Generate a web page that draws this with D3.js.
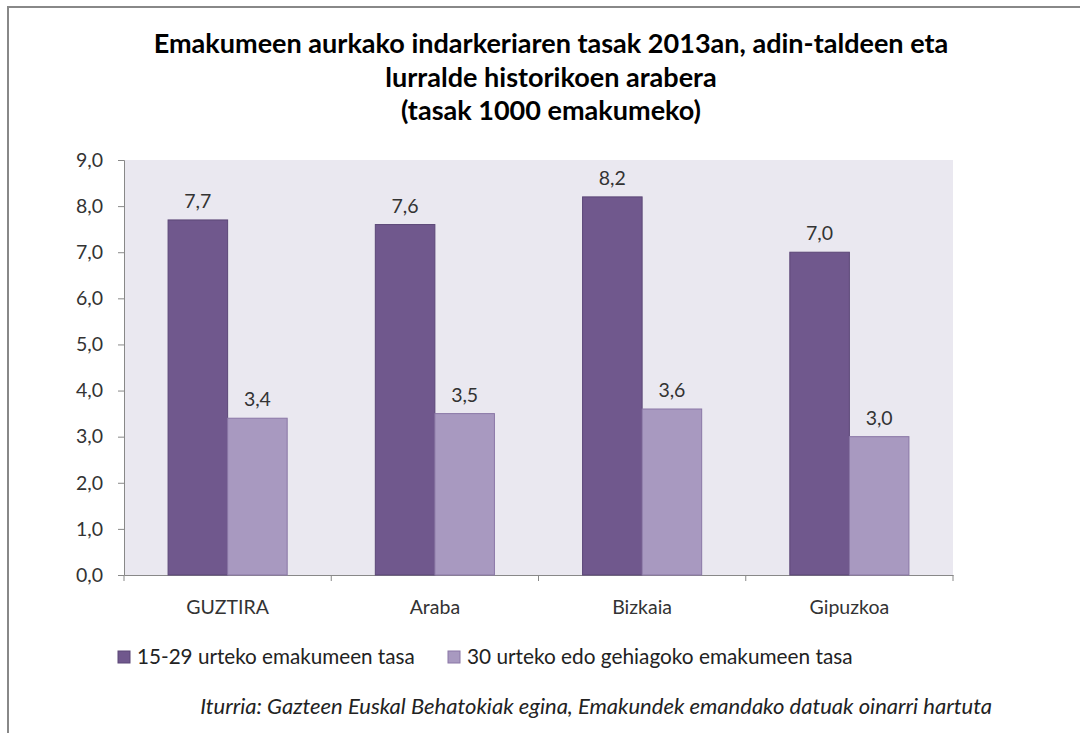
<!DOCTYPE html>
<html>
<head>
<meta charset="utf-8">
<script src="https://cdn.jsdelivr.net/npm/d3@7"></script>
<style>
  body { margin: 0; background: #fff; }
  svg text { font-family: Lato, "Open Sans", sans-serif; }
</style>
</head>
<body>
<div id="chart"></div>
<script>
var categories = ['GUZTIRA', 'Araba', 'Bizkaia', 'Gipuzkoa'];
var seriesNames = ['15-29 urteko emakumeen tasa', '30 urteko edo gehiagoko emakumeen tasa'];
var young = [7.7, 7.6, 8.2, 7.0];
var older = [3.4, 3.5, 3.6, 3.0];
var yTicks = [0, 1, 2, 3, 4, 5, 6, 7, 8, 9];
var titleLines = ['Emakumeen aurkako indarkeriaren tasak 2013an, adin-taldeen eta',
                  'lurralde historikoen arabera', '(tasak 1000 emakumeko)'];
var sourceText = 'Iturria: Gazteen Euskal Behatokiak egina, Emakundek emandako datuak oinarri hartuta';

var width = 1080, height = 733;
var margin = {left: 124, right: 127, top: 160, bottom: 158};
var colors = ['#70588d', '#a899c0'];
var strokes = ['#5b4677', '#8a77a6'];
var labelSize = '19.5px';

var fmt = function(v) { return d3.format('.1f')(v).replace('.', ','); };

var svg = d3.select('#chart').append('svg')
  .attr('width', width)
  .attr('height', height);

// outer frame (only top and left edges visible)
svg.append('path')
  .attr('d', 'M8,733 L8,7 L1080,7')
  .attr('fill', 'none')
  .attr('stroke', '#888')
  .attr('stroke-width', 2);

// fit a text element to a target width
function fitWidth(sel, target) {
  var w = sel.node().getComputedTextLength();
  var fs = parseFloat(sel.style('font-size'));
  sel.style('font-size', (fs * target / w) + 'px');
}

var title = svg.append('g');
titleLines.forEach(function(t, i) {
  var tx = title.append('text')
    .attr('x', 551)
    .attr('y', 53 + i * 33.5)
    .attr('text-anchor', 'middle')
    .style('font-weight', 'bold')
    .style('font-size', '22px')
    .style('fill', '#000')
    .text(t);
  if (i === 0) fitWidth(tx, 795);
});
var titleSize = title.select('text').style('font-size');
title.selectAll('text').style('font-size', titleSize);

var x = d3.scaleBand()
  .domain(categories)
  .range([margin.left, width - margin.right]);

var x1 = d3.scaleBand()
  .domain([0, 1])
  .range([0, x.bandwidth()])
  .paddingOuter(0.74)
  .paddingInner(0);

var y = d3.scaleLinear()
  .domain([0, 9])
  .range([height - margin.bottom, margin.top]);

// plot background
svg.append('rect')
  .attr('x', margin.left)
  .attr('y', y(9))
  .attr('width', width - margin.right - margin.left)
  .attr('height', y(0) - y(9))
  .attr('fill', '#eae8f0');

var yAxis = svg.append('g')
  .attr('transform', 'translate(' + margin.left + ',0)')
  .call(d3.axisLeft(y).tickValues(yTicks).tickFormat(fmt).tickSize(6).tickPadding(15));

var xAxis = svg.append('g')
  .attr('transform', 'translate(0,' + y(0) + ')')
  .call(d3.axisBottom(x).tickSize(0).tickPadding(25));

// category boundary ticks
xAxis.selectAll('.boundary')
  .data(d3.range(categories.length + 1))
  .enter().append('line')
  .attr('class', 'boundary')
  .attr('x1', function(i) { return margin.left + i * x.step(); })
  .attr('x2', function(i) { return margin.left + i * x.step(); })
  .attr('y1', 0).attr('y2', 6)
  .attr('stroke', '#888');

[yAxis, xAxis].forEach(function(a) {
  a.select('.domain').attr('stroke', '#888');
  a.selectAll('.tick line').attr('stroke', '#888');
  a.selectAll('text')
    .style('font-size', labelSize)
    .style('font-family', 'Lato, "Open Sans", sans-serif')
    .style('fill', '#333');
});

var series = [young, older];
var groups = svg.selectAll('.series')
  .data(series)
  .enter().append('g')
  .attr('class', 'series');

groups.each(function(vals, si) {
  var g = d3.select(this);
  g.selectAll('rect')
    .data(vals)
    .enter().append('rect')
    .attr('x', function(d, i) { return x(categories[i]) + x1(si); })
    .attr('y', function(d) { return y(d); })
    .attr('width', x1.bandwidth())
    .attr('height', function(d) { return y(0) - y(d); })
    .attr('fill', colors[si])
    .attr('stroke', strokes[si])
    .attr('stroke-width', 1);

  g.selectAll('text')
    .data(vals)
    .enter().append('text')
    .attr('x', function(d, i) { return x(categories[i]) + x1(si) + x1.bandwidth() / 2; })
    .attr('y', function(d) { return y(d) - 12; })
    .attr('text-anchor', 'middle')
    .style('font-size', labelSize)
    .style('fill', '#333')
    .text(fmt);
});

// legend
var legendX = [118, 448];
var legendW = [278, 386];
var legend = svg.selectAll('.legend')
  .data(seriesNames)
  .enter().append('g')
  .attr('class', 'legend')
  .attr('transform', function(d, i) { return 'translate(' + legendX[i] + ',651)'; });

legend.append('rect')
  .attr('width', 12).attr('height', 12)
  .attr('fill', function(d, i) { return colors[i]; })
  .attr('stroke', function(d, i) { return strokes[i]; });

legend.append('text')
  .attr('x', 19)
  .attr('y', 13)
  .style('font-size', '18px')
  .style('fill', '#222')
  .text(function(d) { return d; })
  .each(function(d, i) { fitWidth(d3.select(this), legendW[i]); });

var src = svg.append('text')
  .attr('x', 992)
  .attr('y', 714)
  .attr('text-anchor', 'end')
  .style('font-size', '18px')
  .style('font-style', 'italic')
  .style('fill', '#222')
  .text(sourceText);
fitWidth(src, 792);
</script>
</body>
</html>
